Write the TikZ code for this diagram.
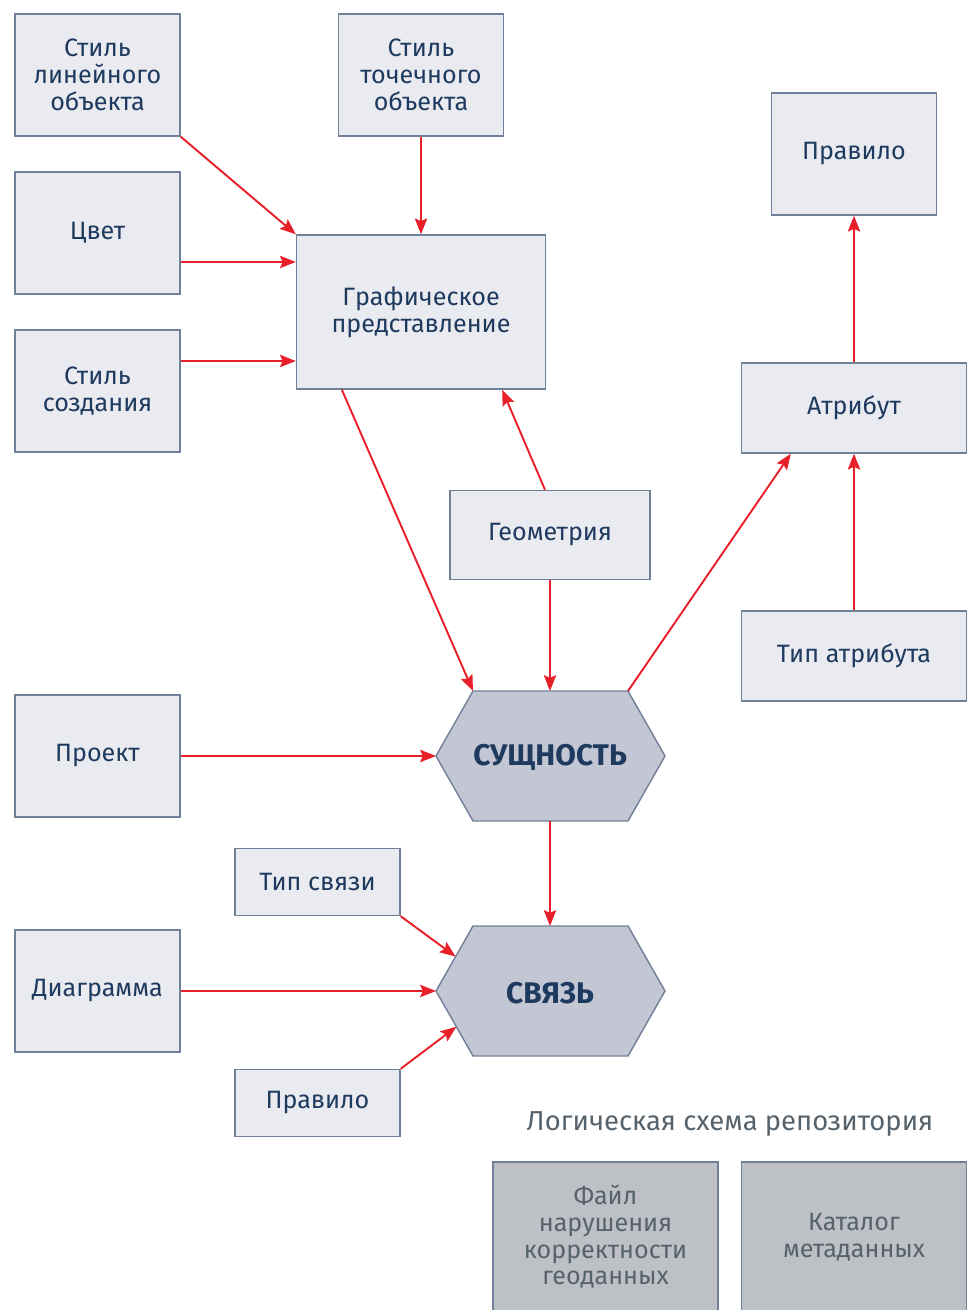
\documentclass[tikz,border=0pt]{standalone}
\usepackage{fontspec}
\setmainfont{Fira Sans}
\usepackage{tikz}
\usepackage{xcolor}
\usetikzlibrary{arrows.meta, calc}

\definecolor{boxfill}{HTML}{EAEBF0}
\definecolor{boxline}{HTML}{6F8098}
\definecolor{navytext}{HTML}{1E3A5F}
\definecolor{hexfill}{HTML}{C3C6D3}
\definecolor{repofill}{HTML}{BDC0C5}
\definecolor{repotext}{HTML}{56636C}
\definecolor{linkred}{HTML}{E8202A}

\tikzset{
    box/.style={draw=boxline, fill=boxfill, line width=0.8pt, text=navytext,
        align=center, inner sep=0pt, font=\fontsize{14.3}{15.2}\selectfont},
    smallbox/.style={box, minimum width=3.3cm, minimum height=2.44cm},
    widebox/.style={box, minimum width=4.5cm, minimum height=1.8cm},
    flatbox/.style={box, minimum width=3.3cm, minimum height=1.34cm},
    repobox/.style={box, fill=repofill, text=repotext, minimum width=4.5cm, minimum height=3cm},
    hexshape/.style={draw=boxline, fill=hexfill, line width=0.8pt},
    hexlabel/.style={text=navytext, font=\fontsize{17}{19}\selectfont\bfseries},
    link/.style={draw=linkred, line width=1.1pt, -{Stealth[length=9pt, width=7pt, inset=1.5pt]}},
}

% name, x, y, text
\newcommand{\hexbox}[4]{%
    \coordinate (#1) at (#2,#3);
    \draw[hexshape] ($(#1)+(-114,0)$) coordinate (#1-w)
        -- ++(37,-65) coordinate (#1-nw) -- ++(155,0) coordinate (#1-ne)
        -- ++(37,65) coordinate (#1-e) -- ++(-37,65) coordinate (#1-se)
        -- ++(-155,0) coordinate (#1-sw) -- cycle;
    \coordinate (#1-n) at ($(#1)+(0,-65)$);
    \coordinate (#1-s) at ($(#1)+(0,65)$);
    \node[hexlabel] (#1-text) at ([yshift=-1pt]#1) {#4};
}

\begin{document}
\begin{tikzpicture}[x=0.02cm, y=-0.02cm]
    \useasboundingbox (0,0) rectangle (979,1310);

    % left column
    \node[smallbox] (stlin) at (97.5,75) {Стиль\\линейного\\объекта};
    \node[smallbox] (color) at (97.5,233) {Цвет};
    \node[smallbox] (stcreate) at (97.5,391) {Стиль\\создания};
    \node[smallbox] (project) at (97.5,756) {Проект};
    \node[smallbox] (diagram) at (97.5,991) {Диаграмма};

    % middle
    \node[smallbox] (stpoint) at (421,75) {Стиль\\точечного\\объекта};
    \node[box, minimum width=4.98cm, minimum height=3.08cm] (graph) at (421,312) {Графическое\\представление};
    \node[box, minimum width=4cm, minimum height=1.78cm] (geom) at (550,535) {Геометрия};
    \node[flatbox] (linktype) at (317.5,882) {Тип связи};
    \node[flatbox] (rule2) at (317.5,1103) {Правило};

    \hexbox{entity}{550}{756}{СУЩНОСТЬ}
    \hexbox{relation}{550}{991}{СВЯЗЬ}

    % right column
    \node[smallbox] (rule1) at (854,154) {Правило};
    \node[widebox] (attr) at (854,408) {Атрибут};
    \node[widebox] (attrtype) at (854,656) {Тип атрибута};

    % repository
    \node[text=repotext, font=\fontsize{15.6}{17}\selectfont] (repotitle) at (730,1124) {Логическая схема репозитория};
    \node[repobox] (errfile) at (605.5,1237) {Файл\\нарушения\\корректности\\геоданных};
    \node[repobox] (catalog) at (854,1237) {Каталог\\метаданных};

    % connectors
    \draw[link] (stlin.south east) -- (graph.north west);
    \draw[link] ([yshift=-0.58cm]color.east) -- ([yshift=-0.58cm]color.east -| graph.west);
    \draw[link] ([yshift=0.6cm]stcreate.east) -- ([yshift=0.6cm]stcreate.east -| graph.west);
    \draw[link] (stpoint.south) -- (graph.north);
    \draw[link] ([xshift=0.92cm]graph.south west) -- (entity-nw);
    \draw[link] ([xshift=-0.1cm]geom.north) -- ([xshift=-0.88cm]graph.south east);
    \draw[link] (geom.south) -- (entity-n);
    \draw[link] (entity-ne) -- ([xshift=1cm]attr.south west);
    \draw[link] (attrtype.north) -- (attr.south);
    \draw[link] (attr.north) -- (rule1.south);
    \draw[link] (project.east) -- (entity-w);
    \draw[link] (entity-s) -- (relation-n);
    \draw[link] (linktype.south east) -- ($(relation-w)!0.53!(relation-nw)$);
    \draw[link] (diagram.east) -- (relation-w);
    \draw[link] (rule2.north east) -- ($(relation-w)!0.55!(relation-sw)$);
\end{tikzpicture}
\end{document}
